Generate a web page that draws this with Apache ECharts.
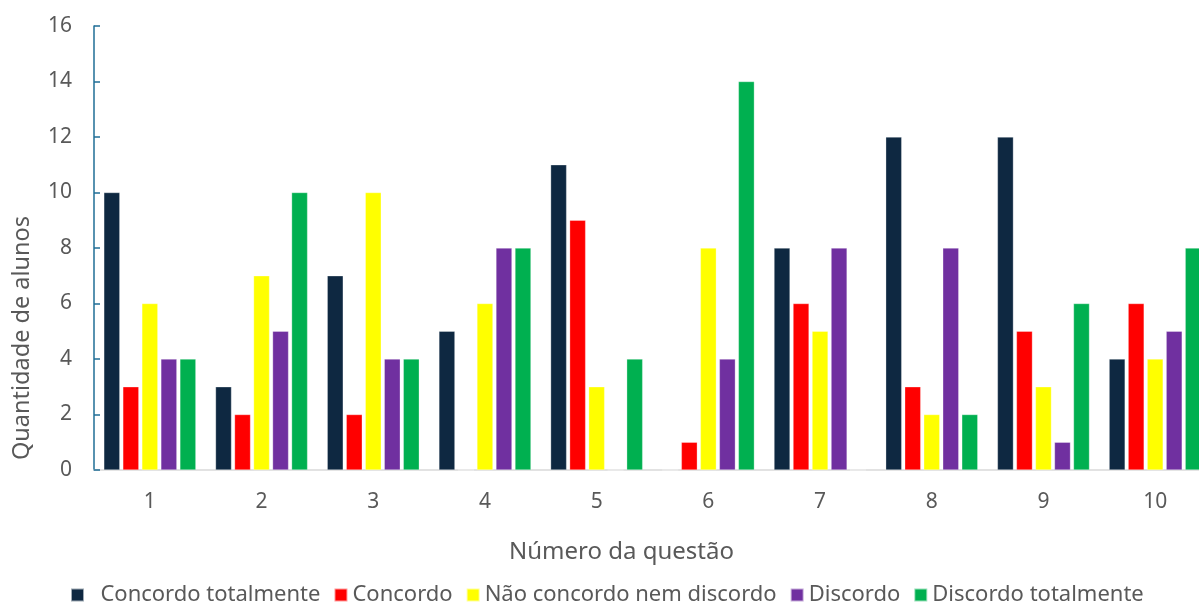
<!DOCTYPE html>
<html>
<head>
<meta charset="utf-8">
<script src="https://cdn.jsdelivr.net/npm/echarts@6/dist/echarts.min.js"></script>
<style>
  html, body { margin: 0; padding: 0; background: #fff; }
  #chart { width: 1199px; height: 607px; }
</style>
</head>
<body>
<div id="chart"></div>
<script>
// dados do gráfico
const questoes = ['1', '2', '3', '4', '5', '6', '7', '8', '9', '10']
const concordoTotalmente = [10, 3, 7, 5, 11, 0, 8, 12, 12, 4]
const concordo = [3, 2, 2, 0, 9, 1, 6, 3, 5, 6]
const neutro = [6, 7, 10, 6, 3, 8, 5, 2, 3, 4]
const discordo = [4, 5, 4, 8, 0, 4, 8, 8, 1, 5]
const discordoTotalmente = [4, 10, 4, 8, 4, 14, 0, 2, 6, 8]

const fonte = 'Noto Sans'
const cinza = '#595959'

const chart = echarts.init(document.getElementById('chart'))

function serie(name, data, color) {
  return {
    name: name,
    type: 'bar',
    data: data,
    barGap: '19%',
    barCategoryGap: '17.6%',
    itemStyle: { color: color, borderColor: 'rgba(255,255,255,0.6)', borderWidth: 0.5 }
  }
}

chart.setOption({
  animation: false,
  textStyle: { fontFamily: fonte },
  grid: { left: 94, top: 26, bottom: 137, width: 1117, outerBoundsMode: 'none' },
  legend: {
    top: 584,
    left: 70,
    padding: 0,
    itemWidth: 13,
    itemHeight: 13,
    itemGap: 13,
    icon: 'rect',
    formatter: function (name) {
      // o primeiro item tem um espaço maior no original
      return name === 'Concordo totalmente' ? '  ' + name : name
    },
    textStyle: { fontSize: 22, color: cinza, fontFamily: fonte }
  },
  xAxis: {
    type: 'category',
    data: questoes,
    name: 'Número da questão',
    nameLocation: 'middle',
    nameGap: 70,
    nameTextStyle: { fontSize: 24, color: cinza, fontFamily: fonte, padding: [0, 62, 0, 0] },
    axisLine: { lineStyle: { color: '#d9d9d9', width: 1.5 } },
    axisTick: { show: false },
    axisLabel: { fontSize: 21, color: cinza, margin: 22 }
  },
  yAxis: {
    type: 'value',
    min: 0,
    max: 16,
    interval: 2,
    axisLine: { show: true, lineStyle: { color: '#1f6e96', width: 1.5 } },
    axisTick: { show: true, inside: true, length: 6, lineStyle: { color: '#1f6e96', width: 1.5 } },
    splitLine: { show: false },
    axisLabel: { fontSize: 21, color: cinza, margin: 22 }
  },
  graphic: [{
    type: 'text',
    x: 22,
    y: 338,
    rotation: Math.PI / 2,
    style: {
      text: 'Quantidade de alunos',
      fontSize: 23.5,
      fontFamily: fonte,
      fill: cinza,
      textAlign: 'center',
      textVerticalAlign: 'middle'
    }
  }],
  series: [
    serie('Concordo totalmente', concordoTotalmente, '#0e2841'),
    serie('Concordo', concordo, '#ff0000'),
    serie('Não concordo nem discordo', neutro, '#ffff00'),
    serie('Discordo', discordo, '#7030a0'),
    serie('Discordo totalmente', discordoTotalmente, '#00b050')
  ]
})
</script>
</body>
</html>
